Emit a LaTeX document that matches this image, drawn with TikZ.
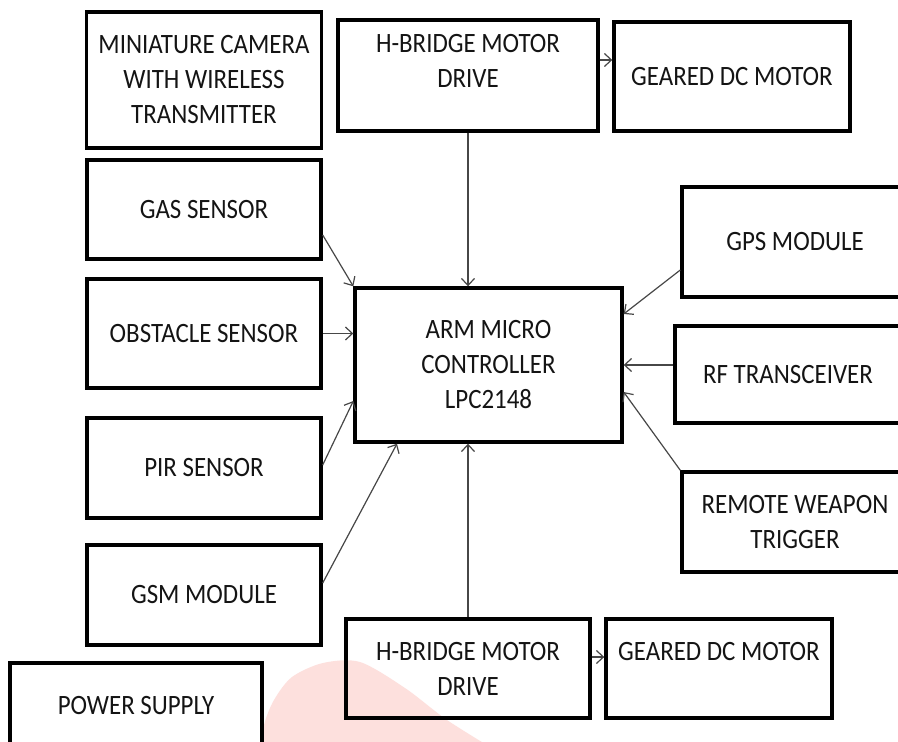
\documentclass[tikz,border=0pt]{standalone}
\usepackage{fontspec}
\setmainfont{Carlito}[FakeStretch=0.89]
\usetikzlibrary{arrows.meta,calc}
\definecolor{pinkwm}{RGB}{253,224,221}
\definecolor{txt}{RGB}{20,20,20}
\tikzset{
  blk/.style={draw=black, line width=3.4pt, rectangle, fill=none, align=center,
    text=txt, font=\fontsize{28}{35}\selectfont, inner sep=0pt},
  conn/.style={draw=black!72, line width=1.2pt, -{Straight Barb[length=7pt,width=13pt,line width=1.2pt]}},
  lbl/.style={text=txt, font=\fontsize{28}{35}\selectfont, align=center}
}
\begin{document}
\begin{tikzpicture}[x=1pt,y=-1pt]
\useasboundingbox (0,0) rectangle (898,742);
\clip (0,0) rectangle (898,742);
\fill[white] (0,0) rectangle (898,742);
% faint watermark blob
\fill[pinkwm] plot[smooth] coordinates {(258,760) (264,725) (274,700) (292,677) (323,663) (360,662) (405,688) (447,720) (495,750)} -- cycle;

\node[blk, minimum width=235, minimum height=136] (cam) at (204,80) {MINIATURE CAMERA\\WITH WIRELESS\\TRANSMITTER};
\node[blk, minimum width=260, minimum height=111,
  label={[lbl, yshift=15]center:H-BRIDGE MOTOR\\DRIVE}] (hb1) at (468,75.5) {};
\node[blk, minimum width=236, minimum height=109] (dc1) at (732,76.5) {GEARED DC MOTOR};
\node[blk, minimum width=234, minimum height=99] (gas) at (204,209.5) {GAS SENSOR};
\node[blk, minimum width=234, minimum height=109] (obs) at (204,333.5) {OBSTACLE SENSOR};
\node[blk, minimum width=234, minimum height=100] (pir) at (204,468) {PIR SENSOR};
\node[blk, minimum width=234, minimum height=100] (gsm) at (204,595) {GSM MODULE};
\node[blk, minimum width=267, minimum height=154] (arm) at (488.5,365) {ARM MICRO\\CONTROLLER\\LPC2148};
\node[blk, minimum width=226, minimum height=110] (gps) at (795,242) {GPS MODULE};
\node[blk, minimum width=226, minimum height=97] (rf) at (788,374.5) {RF TRANSCEIVER};
\node[blk, minimum width=226, minimum height=100] (rem) at (795,522) {REMOTE WEAPON\\TRIGGER};
\node[blk, minimum width=244, minimum height=99] (hb2) at (468,668.5) {H-BRIDGE MOTOR\\DRIVE};
\node[blk, minimum width=226, minimum height=99,
  label={[lbl, yshift=16.5]center:GEARED DC MOTOR}] (dc2) at (719,668.5) {};
\node[blk, minimum width=252, minimum height=114,
  label={[lbl, yshift=14]center:POWER SUPPLY}] (ps) at (136,720) {};

% helper points on the box borders
\coordinate (hb1o) at ([yshift=15.5]hb1.east);
\coordinate (rfo) at ([yshift=9.5]rf.west);
\coordinate (hb2o) at ([yshift=11.5]hb2.east);

% connectors
\draw[conn] (hb1.south) -- (hb1.south |- arm.north);
\draw[conn] (hb1o) -- (dc1.west |- hb1o);
\draw[conn] ([yshift=-25.5]gas.east) -- (arm.north west);
\draw[conn] (obs.east) -- (arm.west |- obs.east);
\draw[conn] ([yshift=3]pir.east) -- ([yshift=-36]arm.west);
\draw[conn] ([yshift=12]gsm.east) -- ([xshift=-91.5]arm.south);
\draw[conn] ([yshift=-28]gps.west) -- ([yshift=51]arm.east);
\draw[conn] (rfo) -- (arm.east |- rfo);
\draw[conn] (rem.north west) -- ([yshift=-27]arm.east);
\draw[conn] (hb2.north) -- (hb2.north |- arm.south);
\draw[conn] (hb2o) -- (dc2.west |- hb2o);
\end{tikzpicture}
\end{document}
